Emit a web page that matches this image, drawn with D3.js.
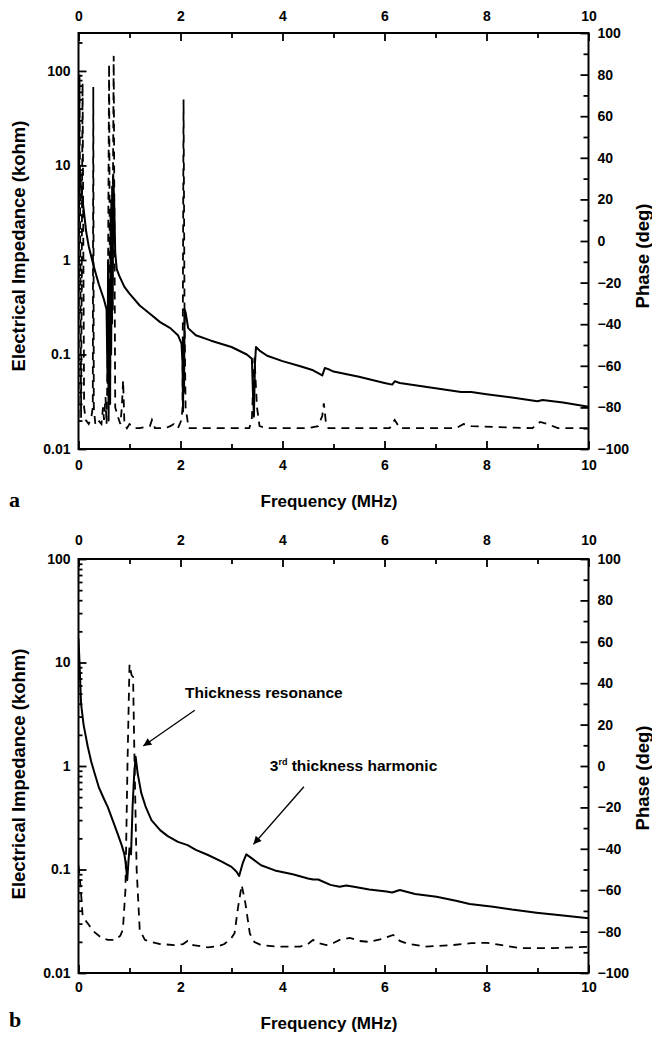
<!DOCTYPE html>
<html>
<head>
<meta charset="utf-8">
<script src="https://cdn.jsdelivr.net/npm/d3@7"></script>
<style>
body{margin:0;background:#fff}
svg text{font-family:"Liberation Sans",Arial,sans-serif;font-weight:bold;fill:#000}
</style>
</head>
<body>
<div class="canvas"></div>
<script>
// ---- data: panel a ----
const aImpF = [0,0.03,0.06,0.1,0.15,0.2,0.3,0.4,0.5,0.55,0.57,0.58,0.59,0.6,0.62,0.63,0.64,0.66,0.67,0.68,0.7,0.72,0.75,0.8,0.9,1.0,1.2,1.4,1.6,1.8,1.95,2.02,2.04,2.05,2.06,2.07,2.08,2.1,2.15,2.3,2.6,3.0,3.3,3.4,3.42,3.44,3.46,3.48,3.55,3.7,4.0,4.35,4.6,4.78,4.83,4.9,5.0,5.5,6.0,6.15,6.2,6.3,7.0,7.5,7.7,8.0,8.5,9.0,9.1,9.5,10]
const aImpZ = [12,8,5,3.5,2,1.4,0.85,0.55,0.38,0.3,0.05,1.0,0.02,0.6,0.03,3,0.1,6,0.3,8,4,1.2,0.8,0.68,0.52,0.44,0.33,0.27,0.22,0.19,0.16,0.13,0.08,0.025,0.15,0.04,0.3,0.28,0.19,0.16,0.14,0.12,0.1,0.09,0.04,0.022,0.08,0.12,0.11,0.097,0.085,0.075,0.068,0.06,0.072,0.07,0.066,0.058,0.05,0.048,0.052,0.05,0.044,0.04,0.04,0.038,0.035,0.032,0.033,0.031,0.028]
const aPhF = [0,0.02,0.05,0.08,0.11,0.14,0.2,0.25,0.28,0.29,0.3,0.33,0.38,0.45,0.48,0.5,0.53,0.55,0.57,0.6,0.62,0.64,0.66,0.69,0.72,0.78,0.82,0.85,0.875,0.9,0.95,1.0,1.1,1.2,1.4,1.44,1.5,1.7,1.8,1.87,1.95,2.02,2.04,2.06,2.08,2.1,2.16,2.5,3.0,3.35,3.4,3.45,3.5,3.55,3.7,4.5,4.7,4.78,4.81,4.85,4.9,6.1,6.2,6.3,7.4,7.55,7.7,8.9,9.05,9.2,9.4,10]
const aPhP = [-85,80,-85,76,-80,-86,-88,-85,-80,74,-80,-88,-86,-88,-80,-86,-75,-88,-60,85,-70,20,-40,89,-80,-85,-88,-80,-67,-88,-90,-88,-90,-90,-89,-86,-90,-90,-89,-88,-90,-86,-80,68,-40,-80,-90,-90,-90,-90,-85,-56,-80,-89,-90,-90,-89,-84,-78,-87,-90,-90,-86,-90,-90,-88,-89,-90,-87,-88,-90,-90]

// ---- data: panel b ----
const bImpF = [0,0.02,0.05,0.1,0.18,0.25,0.31,0.4,0.5,0.575,0.68,0.77,0.85,0.9,0.93,0.955,0.98,1.0,1.03,1.06,1.09,1.12,1.16,1.23,1.32,1.43,1.6,1.75,1.95,2.14,2.3,2.54,2.8,3.0,3.1,3.15,3.22,3.29,3.4,3.58,3.85,4.2,4.5,4.6,4.7,4.94,5.12,5.25,5.4,5.7,6.04,6.15,6.3,6.6,7.02,7.4,7.67,8.13,8.5,8.98,9.5,10]
const bImpZ = [17,10,4,2.5,1.55,1.1,0.87,0.62,0.48,0.4,0.29,0.22,0.17,0.14,0.11,0.079,0.12,0.16,0.14,0.4,0.8,1.23,0.85,0.55,0.4,0.3,0.24,0.21,0.185,0.172,0.155,0.138,0.12,0.106,0.095,0.0865,0.115,0.14,0.128,0.11,0.098,0.09,0.082,0.08,0.08,0.071,0.068,0.07,0.068,0.064,0.0612,0.06,0.0633,0.058,0.0546,0.05,0.0465,0.0437,0.041,0.0383,0.036,0.0338]
const bPhF = [0,0.04,0.08,0.12,0.18,0.3,0.45,0.575,0.72,0.82,0.87,0.92,0.96,1.0,1.04,1.07,1.1,1.14,1.2,1.3,1.43,1.6,1.88,2.05,2.14,2.25,2.54,2.75,2.86,3.0,3.06,3.13,3.2,3.27,3.36,3.45,3.58,3.9,4.34,4.5,4.6,4.7,4.86,5.0,5.12,5.32,5.5,5.71,5.95,6.17,6.3,6.43,6.8,7.34,7.7,8.0,8.3,8.65,9.3,10]
const bPhP = [-48,-58,-72,-74,-76,-80,-83,-84,-84,-82,-79,-60,0,49,44,43,0,-50,-79,-84,-85,-86,-86.5,-86,-84.5,-86.5,-87.6,-87,-86,-83,-80.8,-68,-57.5,-66,-81,-85,-86.5,-87.3,-87.3,-86,-84,-85.5,-86.5,-85.5,-84,-83,-84.5,-85,-83.5,-81.6,-84.5,-85.7,-87.3,-86.5,-85.6,-85.4,-86.5,-88,-88,-87.3]

// ---- ticks ----
const freqMajor = [0,2,4,6,8,10]
const freqMinor = [1,3,5,7,9]
const impMajor = [0.01,0.1,1,10,100]
const phaseMajor = [-100,-80,-60,-40,-20,0,20,40,60,80,100]
const phaseMinor = [-90,-70,-50,-30,-10,10,30,50,70,90]

// annotations in panel b (data coords)
const notes = [
  {text:"Thickness resonance", sup:"", tx:2.09, tz:4.5, x1:2.28, z1:3.45, x2:1.27, z2:1.56},
  {text:" thickness harmonic", sup:"rd", lead:"3", tx:3.75, tz:0.9, x1:4.42, z1:0.63, x2:3.43, z2:0.175}
]

const panels = [
  {id:"a", top:33, bottom:449, zMax:252, impF:aImpF, impZ:aImpZ, phF:aPhF, phP:aPhP, padTop:12, padBottom:11, letterY:507, titleY:507, leftCy:246, rightCy:256},
  {id:"b", top:559, bottom:973, zMax:100, impF:bImpF, impZ:bImpZ, phF:bPhF, phP:bPhP, padTop:14, padBottom:9, letterY:1027, titleY:1029, leftCy:774, rightCy:778}
]

const dim = {width:652, height:1038, left:78.5, right:588.5}
const svg = d3.select(".canvas").append("svg").attr("width",dim.width).attr("height",dim.height)
svg.append("defs").append("marker").attr("id","arrow")
   .attr("viewBox","0 0 10 10").attr("refX",10).attr("refY",5)
   .attr("markerWidth",11).attr("markerHeight",8).attr("markerUnits","userSpaceOnUse")
   .attr("orient","auto")
   .append("path").attr("d","M0,0L10,5L0,10z").attr("fill","#000")

const x = d3.scaleLinear().domain([0,10]).range([dim.left,dim.right])

const styleAxis = g => {
  g.select(".domain").remove()
  g.attr("font-size",null).attr("font-family",null)
  g.selectAll("line").attr("stroke","#000").attr("stroke-width",1.8)
  g.selectAll("text").style("font-size","14px")
}

panels.forEach(p => {
  const y = d3.scaleLog().domain([0.01,p.zMax]).range([p.bottom,p.top])
  const yp = d3.scaleLinear().domain([-100,100]).range([p.bottom,p.top])
  const g = svg.append("g")

  const logMinor = []
  impMajor.forEach(d => { for (let k=2;k<=9;k++) if (d*k <= p.zMax) logMinor.push(d*k) })

  g.append("clipPath").attr("id","clip-"+p.id).append("rect")
   .attr("x",dim.left).attr("y",p.top).attr("width",dim.right-dim.left).attr("height",p.bottom-p.top)

  // axes
  g.append("g").attr("transform",`translate(0,${p.bottom})`)
   .call(d3.axisBottom(x).tickValues(freqMajor).tickSize(-8).tickPadding(p.padBottom).tickFormat(d3.format("d"))).call(styleAxis)
  g.append("g").attr("transform",`translate(0,${p.bottom})`)
   .call(d3.axisBottom(x).tickValues(freqMinor).tickSize(-5).tickFormat("")).call(styleAxis)
  g.append("g").attr("transform",`translate(0,${p.top})`)
   .call(d3.axisTop(x).tickValues(freqMajor).tickSize(-8).tickPadding(p.padTop).tickFormat(d3.format("d"))).call(styleAxis)
  g.append("g").attr("transform",`translate(0,${p.top})`)
   .call(d3.axisTop(x).tickValues(freqMinor).tickSize(-5).tickFormat("")).call(styleAxis)
  g.append("g").attr("transform",`translate(${dim.left},0)`)
   .call(d3.axisLeft(y).tickValues(impMajor).tickSize(-8).tickPadding(8).tickFormat(d => String(d))).call(styleAxis)
  g.append("g").attr("transform",`translate(${dim.left},0)`)
   .call(d3.axisLeft(y).tickValues(logMinor).tickSize(-4).tickFormat("")).call(styleAxis)
  g.append("g").attr("transform",`translate(${dim.right},0)`)
   .call(d3.axisRight(yp).tickValues(phaseMajor).tickSize(-8).tickPadding(9).tickFormat(d3.format("d"))).call(styleAxis)
  g.append("g").attr("transform",`translate(${dim.right},0)`)
   .call(d3.axisRight(yp).tickValues(phaseMinor).tickSize(-5).tickFormat("")).call(styleAxis)

  g.append("rect").attr("x",dim.left).attr("y",p.top)
   .attr("width",dim.right-dim.left).attr("height",p.bottom-p.top)
   .attr("fill","none").attr("stroke","#000").attr("stroke-width",2)

  // lines
  const imp = p.impF.map((f,i) => ({f, v:p.impZ[i]}))
  const ph = p.phF.map((f,i) => ({f, v:p.phP[i]}))
  const plot = g.append("g").attr("clip-path",`url(#clip-${p.id})`)
  plot.append("path").datum(ph)
      .attr("d",d3.line().x(d => x(d.f)).y(d => yp(d.v)))
      .attr("fill","none").attr("stroke","#000").attr("stroke-width",1.8)
      .attr("stroke-dasharray","8,6")
  plot.append("path").datum(imp)
      .attr("d",d3.line().x(d => x(d.f)).y(d => y(d.v)))
      .attr("fill","none").attr("stroke","#000").attr("stroke-width",2)
      .attr("stroke-linejoin","round")

  // titles
  g.append("text").attr("transform",`translate(25,${p.leftCy}) rotate(-90)`)
   .attr("text-anchor","middle").style("font-size","18.5px").text("Electrical Impedance (kohm)")
  g.append("text").attr("transform",`translate(649,${p.rightCy}) rotate(-90)`)
   .attr("text-anchor","middle").style("font-size","18.5px").text("Phase (deg)")
  g.append("text").attr("x",329).attr("y",p.titleY)
   .attr("text-anchor","middle").style("font-size","17px").text("Frequency (MHz)")
  g.append("text").attr("x",9).attr("y",p.letterY)
   .style("font-family","'Liberation Serif',serif").style("font-size","22px").text(p.id)

  if (p.id === "b") {
    notes.forEach(n => {
      g.append("line").attr("x1",x(n.x1)).attr("y1",y(n.z1)).attr("x2",x(n.x2)).attr("y2",y(n.z2))
       .attr("stroke","#000").attr("stroke-width",1.3).attr("marker-end","url(#arrow)")
      const t = g.append("text").attr("x",x(n.tx)).attr("y",y(n.tz)).style("font-size","15.5px")
      if (n.lead) {
        t.append("tspan").text(n.lead)
        t.append("tspan").attr("dy",-6).style("font-size","9px").text(n.sup)
        t.append("tspan").attr("dy",6).text(n.text)
      } else t.text(n.text)
    })
  }
})
</script>
</body>
</html>
